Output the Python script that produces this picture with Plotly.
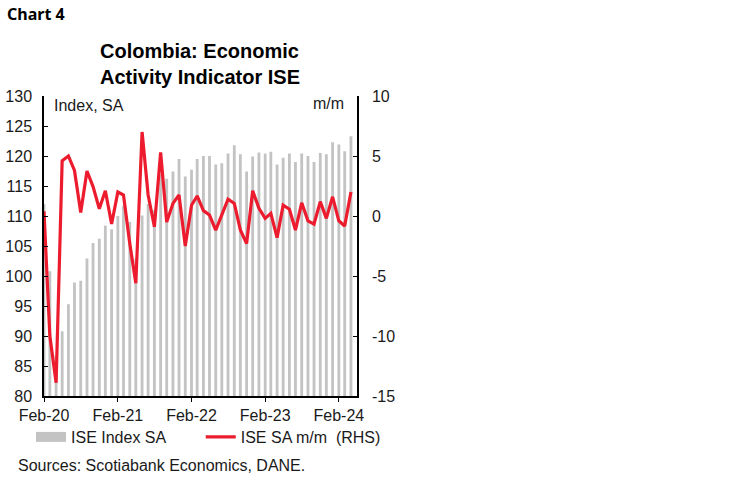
import plotly.graph_objects as go

# monthly data, Feb-20 .. Apr-24
months = [
    "2020-02", "2020-03", "2020-04", "2020-05", "2020-06", "2020-07", "2020-08", "2020-09", "2020-10", "2020-11", "2020-12",
    "2021-01", "2021-02", "2021-03", "2021-04", "2021-05", "2021-06", "2021-07", "2021-08", "2021-09", "2021-10", "2021-11", "2021-12",
    "2022-01", "2022-02", "2022-03", "2022-04", "2022-05", "2022-06", "2022-07", "2022-08", "2022-09", "2022-10", "2022-11", "2022-12",
    "2023-01", "2023-02", "2023-03", "2023-04", "2023-05", "2023-06", "2023-07", "2023-08", "2023-09", "2023-10", "2023-11", "2023-12",
    "2024-01", "2024-02", "2024-03", "2024-04",
]

ise_index = [
    112.0, 100.8, 86.8, 90.8, 95.3, 98.9, 99.2, 102.9, 105.5, 106.2, 108.4,
    107.8, 110.0, 111.7, 109.0, 102.9, 110.1, 112.0, 111.0, 116.9, 116.2, 117.4, 119.5,
    116.6, 117.7, 119.5, 120.0, 120.0, 118.6, 118.8, 120.4, 121.8, 120.3, 117.4, 119.9,
    120.6, 120.4, 120.7, 118.6, 119.7, 120.4, 119.0, 120.4, 120.0, 119.0, 120.5, 120.3,
    122.3, 121.9, 120.8, 123.3,
]

ise_mm = [
    0.4, -10.0, -13.9, 4.6, 5.0, 3.8, 0.3, 3.75, 2.45, 0.6, 2.1,
    -0.67, 2.0, 1.75, -2.3, -5.6, 7.0, 1.75, -0.9, 5.3, -0.5, 1.05, 1.75,
    -2.5, 0.9, 1.67, 0.45, 0.08, -1.17, 0.08, 1.4, 1.05, -1.17, -2.3, 2.1,
    0.64, -0.2, 0.22, -1.8, 0.9, 0.56, -1.17, 1.1, -0.4, -0.67, 1.2, -0.2,
    1.6, -0.4, -0.83, 2.0,
]

rhs_ticks = [-15, -10, -5, 0, 5, 10]
rhs_labels = ["-15", "-10", "-5", "0", "5", "10"]

W, H = 749, 482
L, R, T, B = 44, 357.5, 96, 396
GREY = "#c3c3c3"
RED = "#ec1c2e"
FONT = "Liberation Sans, Arial, sans-serif"


def px(x):
    return (x - L) / (R - L)


def py(y):
    return (B - y) / (B - T)


fig = go.Figure()

fig.add_trace(go.Bar(
    x=months, y=ise_index, name="ISE Index SA",
    marker=dict(color=GREY, line=dict(width=0)),
    showlegend=False,
))
# legend swatch for the bars (wide grey block like the original)
fig.add_trace(go.Scatter(
    x=[None], y=[None], mode="lines", name="ISE Index SA",
    line=dict(color=GREY, width=11), legend="legend",
))
fig.add_trace(go.Scatter(
    x=months, y=ise_mm, name="ISE SA m/m  (RHS)", yaxis="y2",
    mode="lines", line=dict(color=RED, width=3.2), legend="legend2",
))

leg = dict(orientation="h", xanchor="left", yanchor="middle",
           font=dict(size=16), bgcolor="rgba(0,0,0,0)")

fig.update_layout(
    width=W, height=H,
    margin=dict(l=L, r=W - R, t=T, b=H - B, pad=0, autoexpand=False),
    paper_bgcolor="white", plot_bgcolor="white",
    font=dict(family=FONT, size=16, color="#1a1a1a"),
    bargap=0.5,
    showlegend=True,
    legend=dict(leg, x=px(31), y=py(437)),
    legend2=dict(leg, x=px(201), y=py(437)),
    xaxis=dict(
        type="date", range=["2020-02-01", "2024-05-01"],
        tick0="2020-02-01", dtick="M12", tickformat="%b-%y",
        showline=True, linecolor="black", linewidth=1.5,
        ticks="outside", ticklen=4, tickcolor="black", tickwidth=1,
        showgrid=False, zeroline=False, automargin=False,
        tickfont=dict(size=16),
    ),
    yaxis=dict(
        range=[80, 130], dtick=5,
        showline=True, linecolor="black", linewidth=1.5,
        ticks="inside", ticklen=4, tickcolor="black",
        showgrid=False, zeroline=False, automargin=False,
        tickfont=dict(size=16), ticklabelstandoff=7,
    ),
    yaxis2=dict(
        range=[-15, 10], tickvals=rhs_ticks, ticktext=rhs_labels,
        overlaying="y", side="right",
        showline=True, linecolor="black", linewidth=1.5,
        ticks="inside", ticklen=4, tickcolor="black",
        showgrid=False, zeroline=False, automargin=False,
        tickfont=dict(size=16), ticklabelstandoff=10,
    ),
)

annotations = [
    dict(text="<b>Chart 4</b>", x=px(5), y=py(14), xanchor="left", yanchor="middle",
         font=dict(family="Noto Sans, Open Sans, sans-serif", size=16, color="black")),
    dict(text="<b>Colombia: Economic<br>Activity Indicator ISE</b>", x=px(200), y=py(64),
         xanchor="center", yanchor="middle", align="left",
         font=dict(family=FONT, size=20, color="black")),
    dict(text="Index, SA", x=px(52), y=py(105), xanchor="left", yanchor="middle",
         font=dict(size=16)),
    dict(text="m/m", x=px(346), y=py(104), xanchor="right", yanchor="middle",
         font=dict(size=16)),
    dict(text="Sources: Scotiabank Economics, DANE.", x=px(16), y=py(465),
         xanchor="left", yanchor="middle", font=dict(size=16)),
]
for a in annotations:
    a.update(xref="paper", yref="paper", showarrow=False)
fig.update_layout(annotations=annotations)

# drop the default 8px page margin so the figure sits at the window corner
fig.write_html("out.html", config={"displayModeBar": False},
               post_script="document.body.style.margin='0';")
